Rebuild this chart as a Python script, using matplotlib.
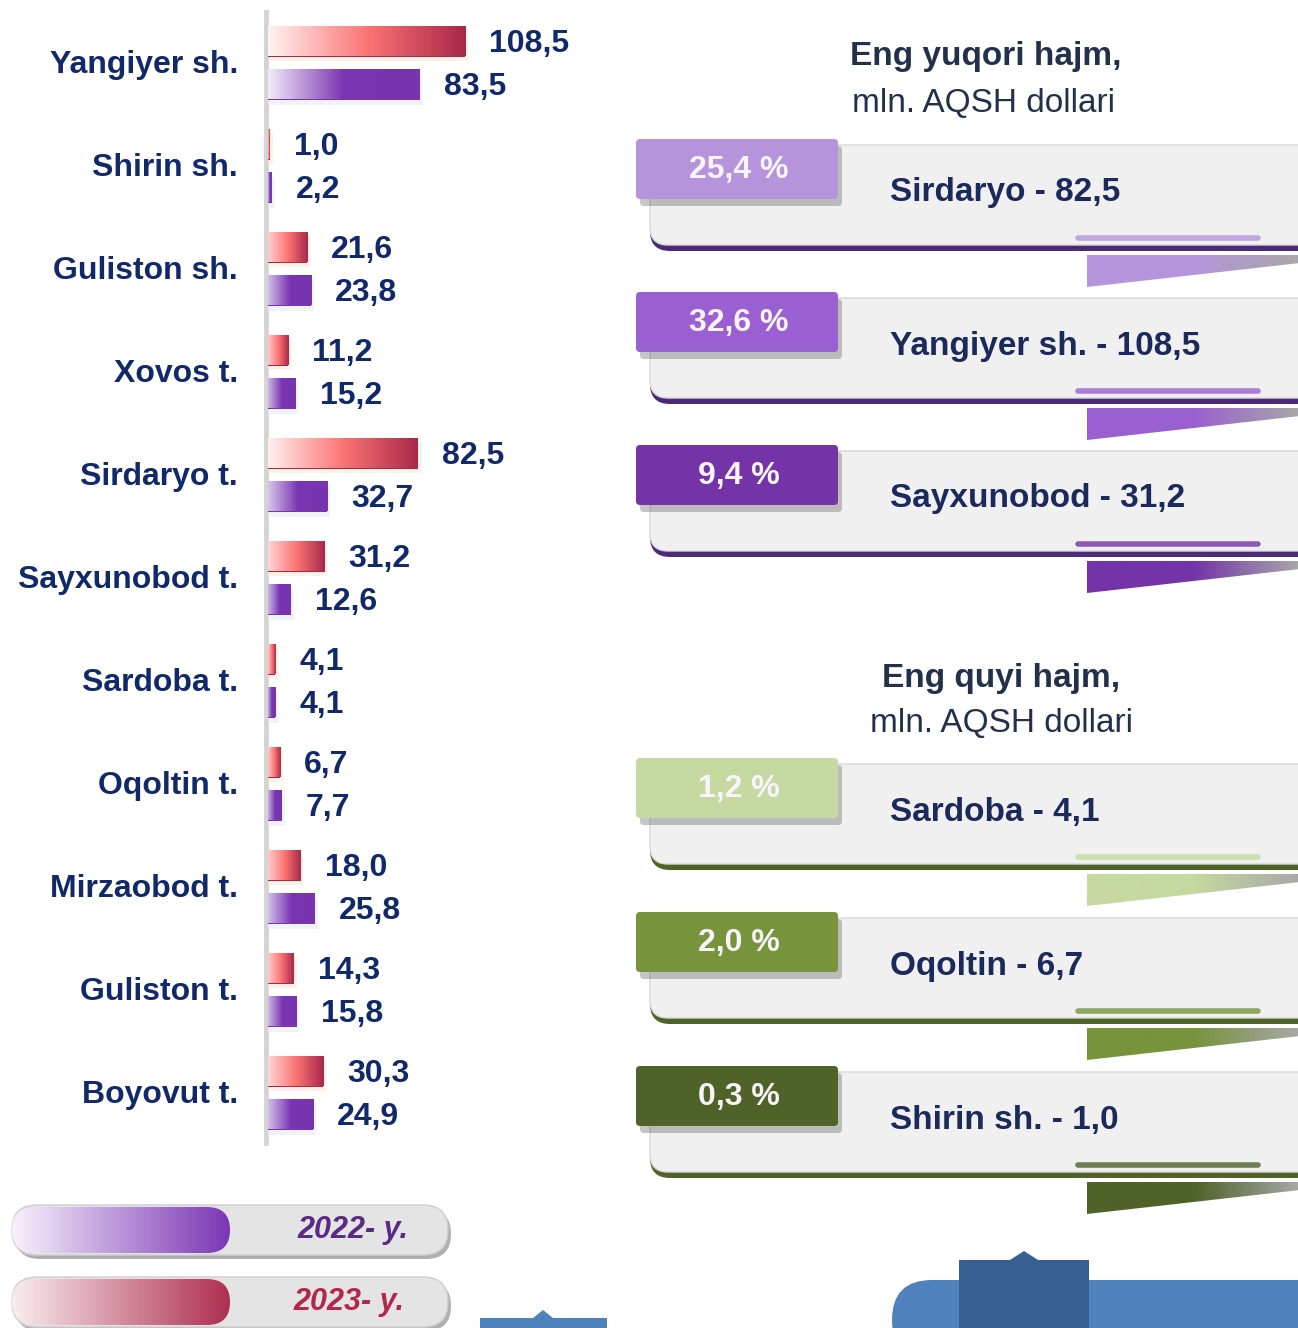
import matplotlib.pyplot as plt
import numpy as np
from matplotlib.patches import FancyBboxPatch, Polygon
from matplotlib.colors import LinearSegmentedColormap, to_rgb

plt.rcParams['font.family'] = ['Liberation Sans', 'DejaVu Sans']

# eksport hajmi, mln. AQSH dollari
regions = ['Yangiyer sh.', 'Shirin sh.', 'Guliston sh.', 'Xovos t.', 'Sirdaryo t.',
           'Sayxunobod t.', 'Sardoba t.', 'Oqoltin t.', 'Mirzaobod t.', 'Guliston t.',
           'Boyovut t.']
y2023 = [108.5, 1.0, 21.6, 11.2, 82.5, 31.2, 4.1, 6.7, 18.0, 14.3, 30.3]
y2022 = [83.5, 2.2, 23.8, 15.2, 32.7, 12.6, 4.1, 7.7, 25.8, 15.8, 24.9]

top_names = ['Sirdaryo', 'Yangiyer sh.', 'Sayxunobod']
top_vals = [82.5, 108.5, 31.2]
top_share = [25.4, 32.6, 9.4]

low_names = ['Sardoba', 'Oqoltin', 'Shirin sh.']
low_vals = [4.1, 6.7, 1.0]
low_share = [1.2, 2.0, 0.3]

W, H = 1298, 1328
NAVY = '#11296b'
PX = 1.816  # piksel / mln. dollar


def fmt(v):
    return f'{v:.1f}'.replace('.', ',')


def mix(c1, c2, t):
    a, b = np.array(to_rgb(c1)), np.array(to_rgb(c2))
    return tuple(a + (b - a) * t)


def bar_cmap(v, pale, strong, mid, end):
    # qisqa ustunlarda boshlang'ich rang to'qroq
    s = 1 - min(v / 90, 1)
    return LinearSegmentedColormap.from_list('b', [mix(pale, strong, s), mid, end])


def gradient(ax, patch, x0, x1, y0, y1, cmap):
    im = ax.imshow(np.linspace(0, 1, 256).reshape(1, -1), cmap=cmap,
                   extent=(x0, x1, y1, y0), aspect='auto', zorder=patch.get_zorder() + 0.1)
    im.set_clip_path(patch)


def card(bg, top, share, text, c_tab, c_dark):
    bottom = top + 112
    # tagi to'q chiziq va asosiy oq-kulrang plashka
    bg.add_patch(FancyBboxPatch((650, top + 12), 680, bottom - top - 12,
                                boxstyle='round,pad=0,rounding_size=20', fc=c_dark, ec='none', zorder=2))
    bg.add_patch(FancyBboxPatch((650, top + 6), 680, bottom - top - 12,
                                boxstyle='round,pad=0,rounding_size=18', fc='#f0f0f0',
                                ec='#d8d8d8', lw=1, zorder=3))
    bg.plot([1078, 1258], [bottom - 13, bottom - 13], lw=4, color=c_tab,
            solid_capstyle='round', alpha=0.8, zorder=4)
    fold = Polygon([(1087, bottom + 4), (1300, bottom + 4), (1300, bottom + 12),
                    (1087, bottom + 36)], fc='none', ec='none', zorder=1)
    bg.add_patch(fold)
    gradient(bg, fold, 1087, 1300, bottom + 4, bottom + 36,
             LinearSegmentedColormap.from_list('f', [c_tab, c_tab, '#a8a8a8']))
    # foiz yorlig'i
    bg.add_patch(FancyBboxPatch((640, top + 7), 202, 60, boxstyle='round,pad=0,rounding_size=4',
                                fc='#333333', alpha=0.28, ec='none', zorder=4))
    bg.add_patch(FancyBboxPatch((636, top), 202, 60, boxstyle='round,pad=0,rounding_size=4',
                                fc=c_tab, ec='none', zorder=5))
    bg.text(739, top + 31, fmt(share) + ' %', ha='center', va='center', fontsize=23,
            fontweight='bold', color='#f8f4fa', zorder=6)
    bg.text(890, top + 54, text, ha='left', va='center', fontsize=24,
            fontweight='bold', color='#1b2a5a', zorder=6)


def legend_pill(bg, y, cmap, label, color, tx):
    bg.add_patch(FancyBboxPatch((15, y + 4), 436, 50, boxstyle='round,pad=0,rounding_size=25',
                                fc='#7a7a7a', alpha=0.6, ec='none', zorder=2))
    bg.add_patch(FancyBboxPatch((12, y), 436, 50, boxstyle='round,pad=0,rounding_size=25',
                                fc='#e4e4e4', ec='#cfcfcf', lw=1, zorder=3))
    p = FancyBboxPatch((12, y + 2), 218, 46, boxstyle='round,pad=0,rounding_size=23',
                       fc='none', ec='none', zorder=4)
    bg.add_patch(p)
    gradient(bg, p, 12, 230, y + 2, y + 48, cmap)
    bg.text(tx, y + 25, label, ha='right', va='center', fontsize=22, fontweight='bold',
            fontstyle='italic', color=color, zorder=6)


fig = plt.figure(figsize=(W / 100, H / 100), dpi=100)
bg = fig.add_axes([0, 0, 1, 1])
bg.axis('off')

# ustunlar
ax = fig.add_axes([268 / W, 0, 332 / W, 1])
ax.axis('off')

y_red = 41 + 103 * np.arange(len(regions))
y_pur = y_red + 43

ax.barh(y_red + 4, np.array(y2023) + 1.5, height=31, color='#fde6d2', alpha=0.6, zorder=1)
ax.barh(y_pur + 5, np.array(y2022) + 1.5, height=31, color='#e9eef4', alpha=0.7, zorder=1)
bars_r = ax.barh(y_red, y2023, height=31, color='#a8284a', zorder=2)
bars_p = ax.barh(y_pur, y2022, height=31, color='#7733b0', zorder=2)
for b, v in zip(bars_r, y2023):
    gradient(ax, b, 0, v, b.get_y(), b.get_y() + b.get_height(),
             bar_cmap(v, '#fff4f2', '#ffc4c4', '#fb7474', '#a8284a'))
for b, v in zip(bars_p, y2022):
    gradient(ax, b, 0, v, b.get_y(), b.get_y() + b.get_height(),
             bar_cmap(v, '#f6f0fb', '#c4aee2', '#7a35b2', '#7733b0'))

for yr, yp, a, b in zip(y_red, y_pur, y2023, y2022):
    ax.annotate(fmt(a), (a, yr), xytext=(17.3, -2.5), textcoords='offset points',
                va='center', ha='left', fontsize=23, fontweight='bold', color=NAVY)
    ax.annotate(fmt(b), (b, yp), xytext=(17.3, -2.5), textcoords='offset points',
                va='center', ha='left', fontsize=23, fontweight='bold', color=NAVY)

for yr, name in zip(y_red, regions):
    bg.text(238, yr + 24, name, ha='right', va='center', fontsize=23,
            fontweight='bold', color=NAVY)

ax.set_xlim(0, 332 / PX)
ax.set_ylim(H, 0)

bg.plot([266, 266], [12, 1143], color='#d4d4d4', lw=3.5, zorder=1)

# eng yuqori / eng quyi
bg.text(986, 57, 'Eng yuqori hajm,', ha='center', va='center', fontsize=24,
        fontweight='bold', color='#22304a')
bg.text(983, 103, 'mln. AQSH dollari', ha='center', va='center', fontsize=24, color='#22304a')
bg.text(1001, 679, 'Eng quyi hajm,', ha='center', va='center', fontsize=24,
        fontweight='bold', color='#22304a')
bg.text(1001, 724, 'mln. AQSH dollari', ha='center', va='center', fontsize=24, color='#22304a')

top_tabs = ['#b694dc', '#9a5fd0', '#7434a8']
low_tabs = ['#c6d9a0', '#77933c', '#4f6228']
for i, (n, v, s) in enumerate(zip(top_names, top_vals, top_share)):
    card(bg, 139 + 153 * i, s, f'{n} - {fmt(v)}', top_tabs[i], '#4b2a78')
for i, (n, v, s) in enumerate(zip(low_names, low_vals, low_share)):
    card(bg, 758 + 154 * i, s, f'{n} - {fmt(v)}', low_tabs[i], '#4f6228')

legend_pill(bg, 1205, LinearSegmentedColormap.from_list('lp', ['#f8f2fc', '#7b36b4']),
            '2022- y.', '#5b2a86', 408)
legend_pill(bg, 1277, LinearSegmentedColormap.from_list('lr', ['#f9edf0', '#ae2f50']),
            '2023- y.', '#b0284a', 404)

# pastki ko'k shakllar
bg.add_patch(Polygon([(480, 1340), (480, 1318), (533, 1318), (543, 1310), (553, 1318),
                      (607, 1318), (607, 1340)], fc='#4f81bd', ec='none', zorder=5))
bg.add_patch(FancyBboxPatch((892, 1280), 450, 80, boxstyle='round,pad=0,rounding_size=40',
                            fc='#4f81bd', ec='none', zorder=5))
bg.add_patch(Polygon([(959, 1340), (959, 1260), (1010, 1260), (1024, 1251), (1038, 1260),
                      (1089, 1260), (1089, 1340)], fc='#376092', ec='none', zorder=6))

bg.set_xlim(0, W)
bg.set_ylim(H, 0)

fig.savefig('out.png', dpi=100)
